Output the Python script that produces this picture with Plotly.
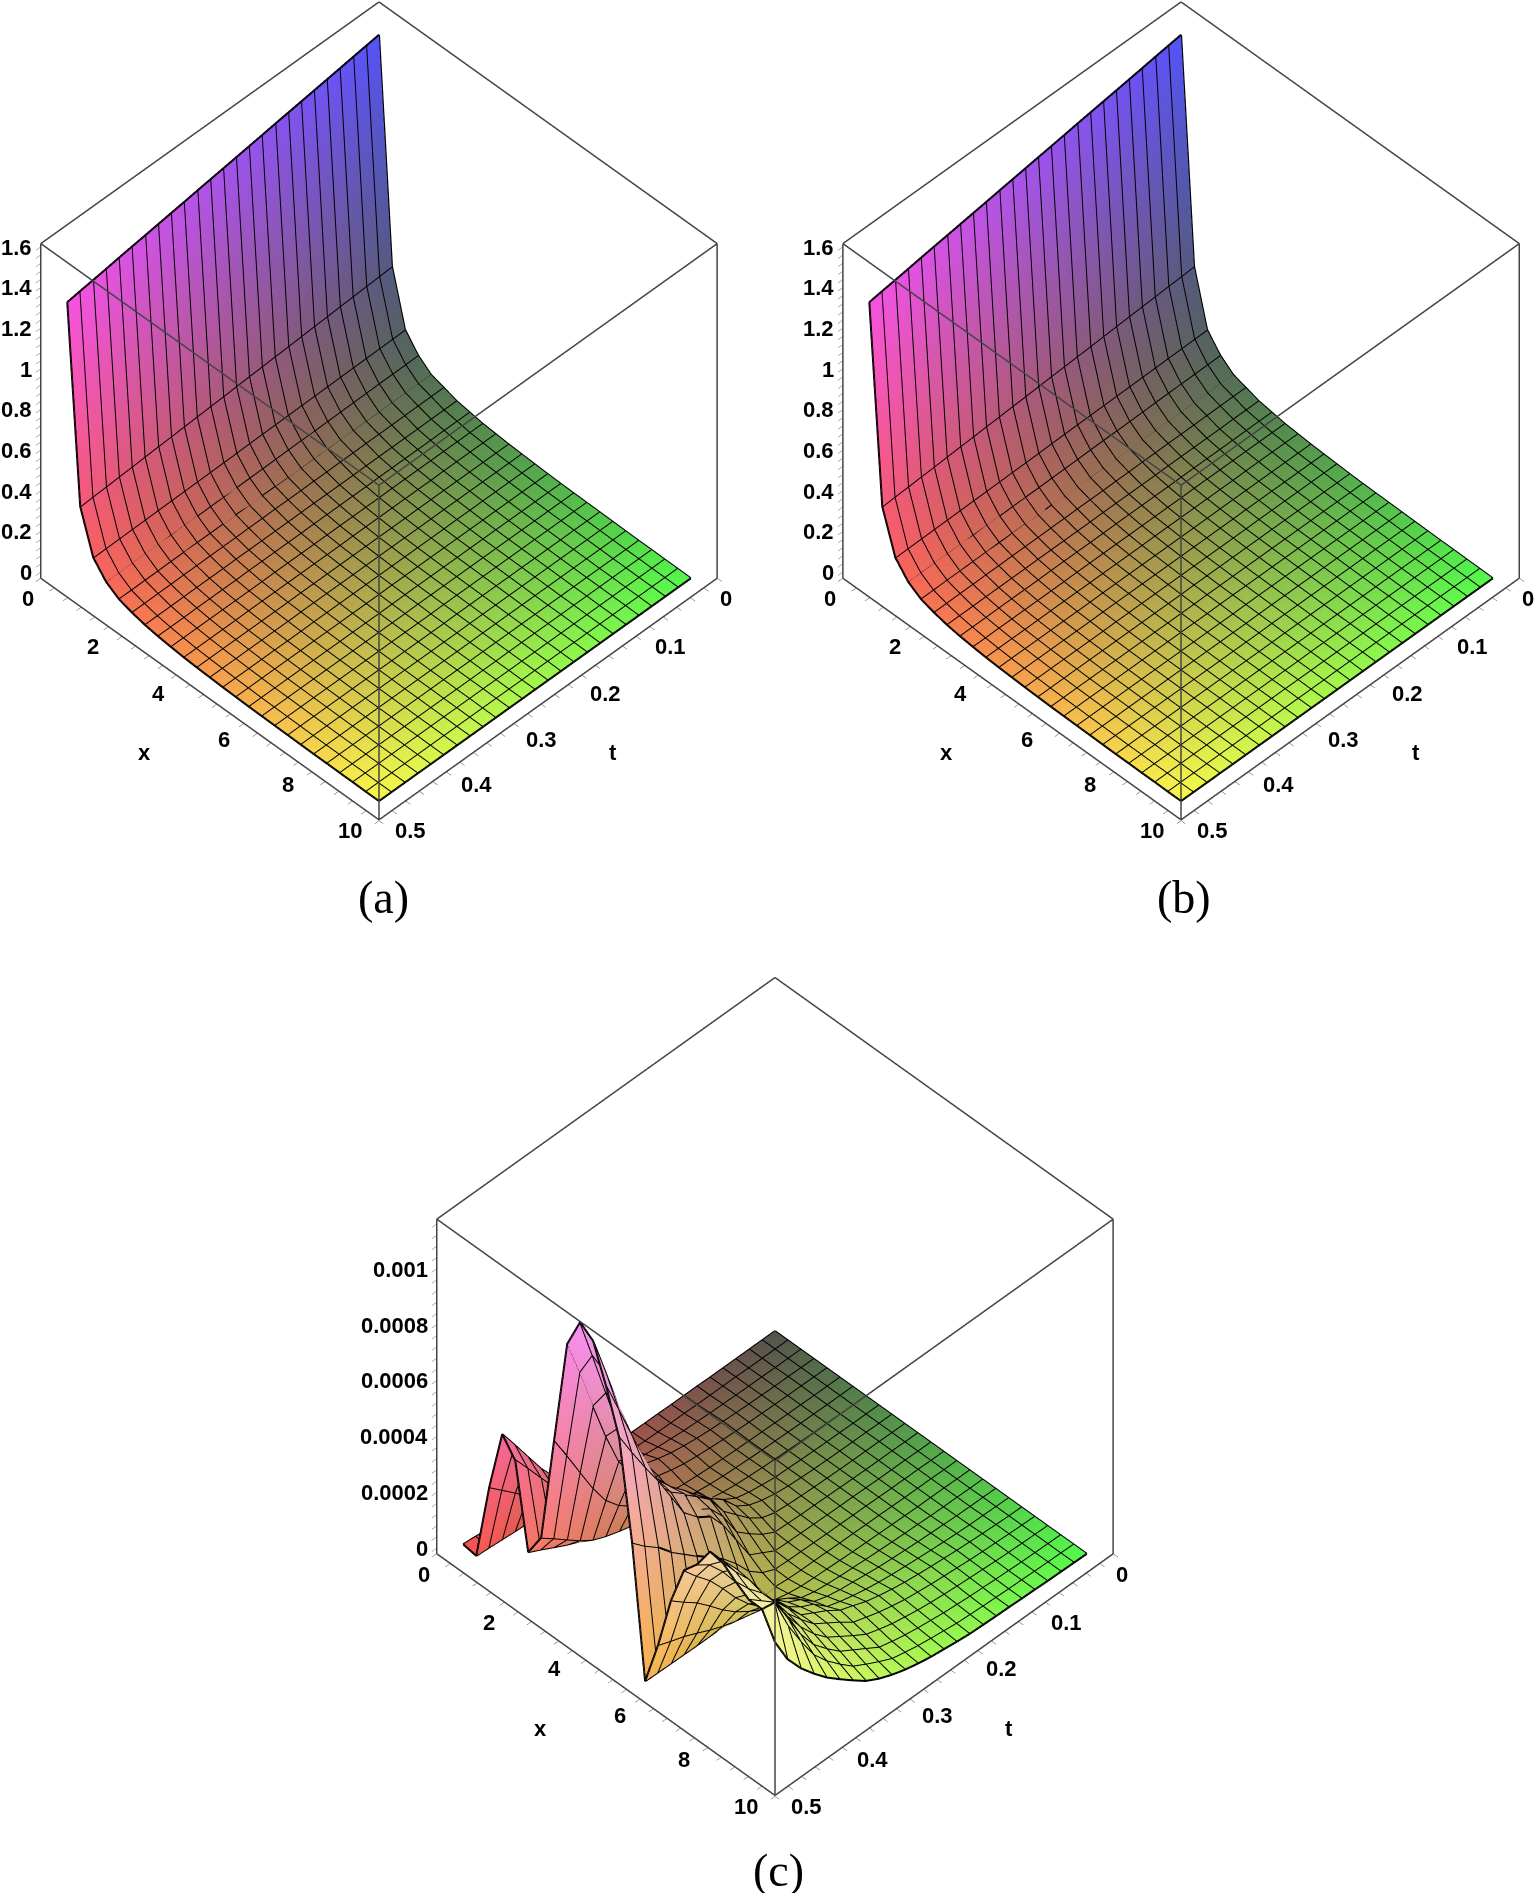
import numpy as np
import plotly.graph_objects as go

# grid of the plotted surface (25 x 25)
X_VALUES = [0.4, 0.783, 1.167, 1.55, 1.933, 2.317, 2.7, 3.083, 3.467, 3.85, 4.233, 4.617, 5.0,
            5.383, 5.767, 6.15, 6.533, 6.917, 7.3, 7.683, 8.067, 8.45, 8.833, 9.217, 9.6]
T_VALUES = [0.02, 0.039, 0.058, 0.078, 0.097, 0.116, 0.135, 0.154, 0.173, 0.193, 0.212, 0.231, 0.25,
            0.269, 0.288, 0.308, 0.327, 0.346, 0.365, 0.385, 0.404, 0.423, 0.442, 0.462, 0.48]

# panels (a), (b): height above the floor of the box; one list per x, along t
FLOOR_AB = -0.03
HEIGHT_AB = [
 [1.580,1.571,1.562,1.552,1.543,1.534,1.525,1.516,1.507,1.497,1.488,1.479,1.470,1.461,1.452,1.442,1.433,1.424,1.415,1.406,1.397,1.387,1.378,1.369,1.360],
 [.486,.482,.479,.475,.472,.468,.465,.461,.457,.454,.450,.447,.443,.439,.436,.432,.429,.425,.422,.418,.414,.411,.407,.404,.400],
 [.220,.219,.218,.217,.216,.215,.214,.213,.212,.211,.210,.209,.208,.206,.205,.204,.203,.202,.201,.200,.199,.198,.197,.196,.195],
 [.140,.139,.138,.138,.137,.136,.135,.134,.133,.133,.132,.131,.130,.129,.128,.128,.127,.126,.125,.124,.123,.123,.122,.121,.120],
 [.090,.090,.089,.089,.088,.088,.088,.087,.087,.086,.086,.085,.085,.085,.084,.084,.083,.083,.083,.082,.082,.081,.081,.080,.080],
 [.070,.070,.069,.069,.068,.068,.068,.067,.067,.066,.066,.065,.065,.065,.064,.064,.063,.063,.063,.062,.062,.061,.061,.060,.060],
 [.050,.050,.050,.049,.049,.049,.049,.049,.048,.048,.048,.048,.048,.047,.047,.047,.047,.047,.046,.046,.046,.046,.045,.045,.045],
 [.040,.040,.040,.039,.039,.039,.039,.039,.038,.038,.038,.038,.038,.037,.037,.037,.037,.037,.036,.036,.036,.036,.035,.035,.035],
 [.030,.030,.030,.030,.030,.030,.030,.030,.029,.029,.029,.029,.029,.029,.029,.029,.029,.028,.028,.028,.028,.028,.028,.028,.028],
 [.025,.025,.025,.025,.025,.024,.024,.024,.024,.024,.024,.024,.023,.023,.023,.023,.023,.023,.023,.023,.022,.022,.022,.022,.022],
 [.020,.020,.020,.020,.020,.020,.020,.020,.019,.019,.019,.019,.019,.019,.019,.019,.019,.018,.018,.018,.018,.018,.018,.018,.018],
 [.017,.017,.017,.017,.017,.017,.017,.016,.016,.016,.016,.016,.016,.016,.016,.016,.016,.016,.015,.015,.015,.015,.015,.015,.015],
 [.014,.014,.014,.014,.014,.014,.014,.013,.013,.013,.013,.013,.013,.013,.013,.013,.013,.013,.012,.012,.012,.012,.012,.012,.012],
 [.011,.011,.011,.011,.011,.011,.011,.011,.011,.011,.011,.011,.011,.010,.010,.010,.010,.010,.010,.010,.010,.010,.010,.010,.010],
 [.009,.009,.009,.009,.009,.009,.009,.009,.009,.009,.009,.009,.009,.008,.008,.008,.008,.008,.008,.008,.008,.008,.008,.008,.008],
 [.008,.008,.008,.008,.008,.008,.008,.008,.008,.008,.008,.008,.008,.007,.007,.007,.007,.007,.007,.007,.007,.007,.007,.007,.007],
 [.007,.007,.007,.007,.007,.007,.007,.007,.007,.007,.007,.007,.006,.006,.006,.006,.006,.006,.006,.006,.006,.006,.006,.006,.006],
 [.006,.006,.006,.006,.006,.006,.006,.006,.006,.006,.006,.006,.005,.005,.005,.005,.005,.005,.005,.005,.005,.005,.005,.005,.005],
 [.005,.005,.005,.005,.005,.005,.005,.005,.005,.005,.005,.005,.004,.004,.004,.004,.004,.004,.004,.004,.004,.004,.004,.004,.004],
 [.004,.004,.004,.004,.004,.004,.004,.004,.004,.004,.004,.004,.003,.003,.003,.003,.003,.003,.003,.003,.003,.003,.003,.003,.003],
 [.003,.003,.003,.003,.003,.003,.003,.003,.003,.003,.003,.003,.003,.003,.003,.003,.003,.003,.003,.003,.003,.003,.003,.003,.003],
 [.003,.003,.003,.003,.003,.003,.003,.003,.003,.003,.003,.003,.002,.002,.002,.002,.002,.002,.002,.002,.002,.002,.002,.002,.002],
 [.002,.002,.002,.002,.002,.002,.002,.002,.002,.002,.002,.002,.002,.002,.002,.002,.002,.002,.002,.002,.002,.002,.002,.002,.002],
 [.002,.002,.002,.002,.002,.002,.002,.002,.002,.002,.002,.002,.001,.001,.001,.001,.001,.001,.001,.001,.001,.001,.001,.001,.001],
 [.001,.001,.001,.001,.001,.001,.001,.001,.001,.001,.001,.001,.001,.001,.001,.001,.001,.001,.001,.001,.001,.001,.001,.001,.001],
]

# panel (c): height above the floor of the box in millionths; one list per t, along x
FLOOR_C = -19
HEIGHT_C = [
 [0]*25,
 [0,0,0,0,0,0,0,0,0,0,0,0,0,0,0,0,0,1,1,1,1,1,1,1,1],
 [0,0,0,1,1,0,0,0,0,1,1,1,1,1,1,1,1,1,2,3,3,2,2,2,2],
 [0,0,1,1,1,1,1,1,1,1,1,1,1,1,1,1,1,2,3,5,5,4,3,3,3],
 [0,1,1,2,2,1,1,1,1,1,1,1,1,1,1,1,2,4,5,8,7,6,5,5,5],
 [0,1,2,3,3,2,2,2,2,2,2,2,2,2,2,2,4,6,8,11,10,9,7,6,6],
 [1,1,3,5,4,3,3,3,3,3,3,3,3,3,3,3,5,8,11,15,14,12,10,8,8],
 [1,1,4,7,6,4,4,5,5,5,4,4,3,3,3,4,7,11,15,19,18,15,12,10,9],
 [1,2,6,10,8,5,6,7,6,8,6,5,4,4,4,5,9,14,19,24,22,19,16,13,11],
 [2,2,8,14,12,7,8,10,13,14,9,6,5,4,4,6,12,18,24,30,28,24,20,16,13],
 [2,3,12,20,16,9,11,14,20,24,13,8,6,5,5,8,15,24,30,38,34,30,26,22,18],
 [3,4,16,28,22,12,15,20,32,40,28,10,7,6,6,10,18,30,38,48,44,38,32,28,24],
 [4,5,22,40,32,16,22,30,60,70,60,35,9,7,6,12,22,36,48,60,55,47,40,35,30],
 [5,6,30,55,45,22,30,70,99,125,105,70,35,9,8,15,28,45,60,78,70,60,50,44,39],
 [6,6,40,70,60,30,40,90,150,163,150,110,60,30,13,22,40,60,75,95,85,75,62,55,50],
 [7,5,61,106,94,40,55,128,170,210,227,200,150,70,9,34,73,101,118,128,120,105,92,78,66],
 [8,6,73,127,112,41,62,154,220,260,270,260,235,130,7,41,99,125,141,153,150,135,120,102,85],
 [9,7,82,143,126,46,69,173,270,305,310,290,300,180,6,48,102,167,175,179,180,165,148,128,110],
 [11,8,98,169,150,55,82,205,330,365,370,380,330,220,5,60,128,177,232,235,228,210,190,168,145],
 [13,10,116,201,178,65,98,243,386,429,430,420,380,260,5,76,161,223,259,296,285,270,240,215,184],
 [16,12,140,243,215,79,118,294,468,519,510,480,470,300,5,95,201,278,323,351,360,340,310,270,223],
 [20,15,177,306,271,100,149,371,590,654,640,600,560,340,6,117,248,344,400,435,429,425,400,350,270],
 [24,19,220,380,337,124,185,461,732,812,790,720,640,390,7,138,292,405,470,511,505,490,490,440,322],
 [30,23,265,459,407,150,224,557,885,981,952,850,730,430,8,155,329,455,529,575,568,540,530,558,390],
 [34,26,305,528,468,172,257,640,1017,1128,1094,965,815,472,9,172,365,506,560,639,631,596,566,566,481],
]

X_RANGE = [0, 10]
T_RANGE = [0, 0.5]
Z_RANGE_AB = [-0.03, 1.62]
Z_RANGE_C = [-0.00002, 0.00118]

X_LABELS = ["0", "2", "4", "6", "8", "10"]
T_LABELS = ["0", "0.1", "0.2", "0.3", "0.4", "0.5"]
Z_LABELS_AB = ["0", "0.2", "0.4", "0.6", "0.8", "1", "1.2", "1.4", "1.6"]
Z_LABELS_C = ["0", "0.0002", "0.0004", "0.0006", "0.0008", "0.001"]
X_TITLE, T_TITLE = "x", "t"

CAPTIONS = ["(a)", "(b)", "(c)"]

# label offsets from the tick on the axis, page pixels
X_SHIFT = [(-12, 20), (-15, 20), (-17, 18), (-19, 16), (-23, 12), (-29, 10)]
T_SHIFT = [(8, 20), (20, 20), (23, 18), (27, 16), (30, 12), (31, 10)]
TITLE_SHIFT = 65, 53

W, H = 1535, 1893
FONT = "Liberation Sans"
SCENE_H = 860.0
PX_PER_UNIT = 428.0
ASPECT = 1.1145
LABEL_FONT = dict(family=FONT, size=22, color="#000", weight="bold")


def make_axis(rng, vals):
    return dict(
        range=rng, tickmode="array", tickvals=vals, ticktext=[""] * len(vals), showticklabels=False,
        showgrid=False, zeroline=False, showbackground=False, showspikes=False,
        showline=False, ticks="outside", ticklen=6, tickwidth=1, tickcolor="#555", title=dict(text=""),
    )


def surface_traces(scene, z, z_range):
    x, t = np.array(X_VALUES), np.array(T_VALUES)
    nx, nt = len(x), len(t)
    xx, tt = np.meshgrid(x, t, indexing="ij")
    colour = lambda v: 0.3 + 0.7 * np.clip(v, 0, 1)
    r = colour(tt / T_RANGE[1])
    g = colour(xx / X_RANGE[1])
    b = colour((z - z_range[0]) / (z_range[1] - z_range[0]))
    vc = [f"rgb({int(a*255)},{int(c*255)},{int(d*255)})" for a, c, d in zip(r.ravel(), g.ravel(), b.ravel())]
    ii, jj, kk = [], [], []
    for p in range(nx - 1):
        for q in range(nt - 1):
            n = p * nt + q
            ii += [n, n + nt]
            jj += [n + 1, n + 1]
            kk += [n + nt, n + nt + 1]
    mesh = go.Mesh3d(x=xx.ravel(), y=tt.ravel(), z=z.ravel(), i=ii, j=jj, k=kk, vertexcolor=vc,
                     lighting=dict(ambient=1, diffuse=0, specular=0, roughness=1, fresnel=0),
                     flatshading=False, hoverinfo="skip", showscale=False, scene=scene)
    lx, ly, lz = [], [], []
    for p in range(nx):
        lx += list(xx[p, :]) + [None]; ly += list(tt[p, :]) + [None]; lz += list(z[p, :]) + [None]
    for q in range(nt):
        lx += list(xx[:, q]) + [None]; ly += list(tt[:, q]) + [None]; lz += list(z[:, q]) + [None]
    grid = go.Scatter3d(x=lx, y=ly, z=lz, mode="lines", line=dict(color="#000", width=4),
                        hoverinfo="skip", showlegend=False, scene=scene)
    # nine of the twelve box edges, just inside the clip limits of the scene
    ex, et, ez = 0.001 * X_RANGE[1], 0.001 * T_RANGE[1], 0.001 * (z_range[1] - z_range[0])
    x0, x1 = X_RANGE[0] + ex, X_RANGE[1] - ex
    t0, t1 = T_RANGE[0] + et, T_RANGE[1] - et
    z0, z1 = z_range[0] + ez, z_range[1] - ez
    edges = [((x0, t1, z0), (x0, t1, z1)), ((x1, t0, z0), (x1, t0, z1)), ((x1, t1, z0), (x1, t1, z1)),
             ((x0, t1, z0), (x1, t1, z0)), ((x1, t0, z0), (x1, t1, z0)),
             ((x0, t1, z1), (x1, t1, z1)), ((x1, t0, z1), (x1, t1, z1)),
             ((x0, t0, z1), (x0, t1, z1)), ((x0, t0, z1), (x1, t0, z1))]
    bx, by, bz = [], [], []
    for a, c in edges:
        bx += [a[0], c[0], None]; by += [a[1], c[1], None]; bz += [a[2], c[2], None]
    box = go.Scatter3d(x=bx, y=by, z=bz, mode="lines", line=dict(color="#444", width=3),
                       hoverinfo="skip", showlegend=False, scene=scene)
    return [mesh, grid, box]


def labels_for(z_range, z_labels, z_major):
    z0 = z_range[0]
    notes = []
    for k, text in enumerate(X_LABELS):
        sx, sy = X_SHIFT[k]
        notes.append(dict(x=2 * k, y=T_RANGE[1], z=z0, text=text, showarrow=False, xanchor="center",
                          yanchor="middle", xshift=sx, yshift=-sy, font=LABEL_FONT))
    for k, text in enumerate(T_LABELS):
        sx, sy = T_SHIFT[k]
        notes.append(dict(x=X_RANGE[1], y=0.1 * k, z=z0, text=text, showarrow=False, xanchor="center",
                          yanchor="middle", xshift=sx, yshift=-sy, font=LABEL_FONT))
    for k, text in enumerate(z_labels):
        notes.append(dict(x=X_RANGE[0], y=T_RANGE[1], z=k * z_major, text=text, showarrow=False,
                          xanchor="right", yanchor="middle", xshift=-6, yshift=0, font=LABEL_FONT))
    notes.append(dict(x=5, y=T_RANGE[1], z=z0, text=X_TITLE, showarrow=False, xanchor="center", yanchor="middle",
                      xshift=-TITLE_SHIFT[0], yshift=-TITLE_SHIFT[1], font=LABEL_FONT))
    notes.append(dict(x=X_RANGE[1], y=0.25, z=z0, text=T_TITLE, showarrow=False, xanchor="center", yanchor="middle",
                      xshift=TITLE_SHIFT[0], yshift=-TITLE_SHIFT[1], font=LABEL_FONT))
    return notes


def scene_layout(left, right, top, bottom, cx, cy, z_range, z_labels, z_major):
    # cx, cy: wanted centre of the cube in page pixels
    d = 2.4
    el = np.radians(45.6)
    direction = np.array([np.cos(el) * 0.7071, -np.cos(el) * 0.7071, np.sin(el)])
    dx = (cx - (left + right) / 2) / PX_PER_UNIT
    dy = (cy - (top + bottom) / 2) / PX_PER_UNIT
    right_v = np.array([0.7071, 0.7071, 0.0])
    up_v = np.array([-np.sin(el) * 0.7071, np.sin(el) * 0.7071, np.cos(el)])
    centre = -dx * right_v + dy * up_v
    eye = centre + d * direction
    xv = [round(k * 0.4, 3) for k in range(26)]
    tv = [round(k * 0.02, 3) for k in range(26)]
    zv = [round(k * z_major / 5, 8) for k in range(int((z_range[1]) / (z_major / 5)) + 1)]
    return dict(
        domain=dict(x=[left / W, right / W], y=[1 - bottom / H, 1 - top / H]),
        aspectmode="manual", aspectratio=dict(x=ASPECT, y=ASPECT, z=ASPECT),
        camera=dict(projection=dict(type="orthographic"),
                    eye=dict(x=eye[0], y=eye[1], z=eye[2]),
                    center=dict(x=centre[0], y=centre[1], z=centre[2]),
                    up=dict(x=0, y=0, z=1)),
        xaxis=make_axis(X_RANGE, xv),
        yaxis=make_axis([T_RANGE[1], T_RANGE[0]], tv),
        zaxis=make_axis(z_range, zv),
        annotations=labels_for(z_range, z_labels, z_major),
    )


z_ab = np.array(HEIGHT_AB) + FLOOR_AB
z_c = (np.array(HEIGHT_C).T + FLOOR_C) * 1e-6

fig = go.Figure()
for tr in surface_traces("scene", z_ab, Z_RANGE_AB):
    fig.add_trace(tr)
for tr in surface_traces("scene2", z_ab, Z_RANGE_AB):
    fig.add_trace(tr)
for tr in surface_traces("scene3", z_c, Z_RANGE_C):
    fig.add_trace(tr)

fig.update_layout(
    width=W, height=H, margin=dict(l=0, r=0, t=0, b=0), paper_bgcolor="white", showlegend=False,
    scene=scene_layout(0, 758, 0, SCENE_H, 379, 411, Z_RANGE_AB, Z_LABELS_AB, 0.2),
    scene2=scene_layout(795, 1535, 0, SCENE_H, 1181, 411, Z_RANGE_AB, Z_LABELS_AB, 0.2),
    scene3=scene_layout(400, 1150, 957, 1817, 775, 1386.5, Z_RANGE_C, Z_LABELS_C, 0.0002),
    annotations=[
        dict(text=c, x=px / W, y=1 - py / H, xref="paper", yref="paper", showarrow=False,
             xanchor="center", yanchor="middle",
             font=dict(family="Liberation Serif", size=46, color="#000"))
        for c, px, py in zip(CAPTIONS, (383, 1184, 778), (897, 897, 1870))
    ],
)
fig.write_html("out.html", config={"displayModeBar": False}, post_script="document.body.style.margin='0';")
